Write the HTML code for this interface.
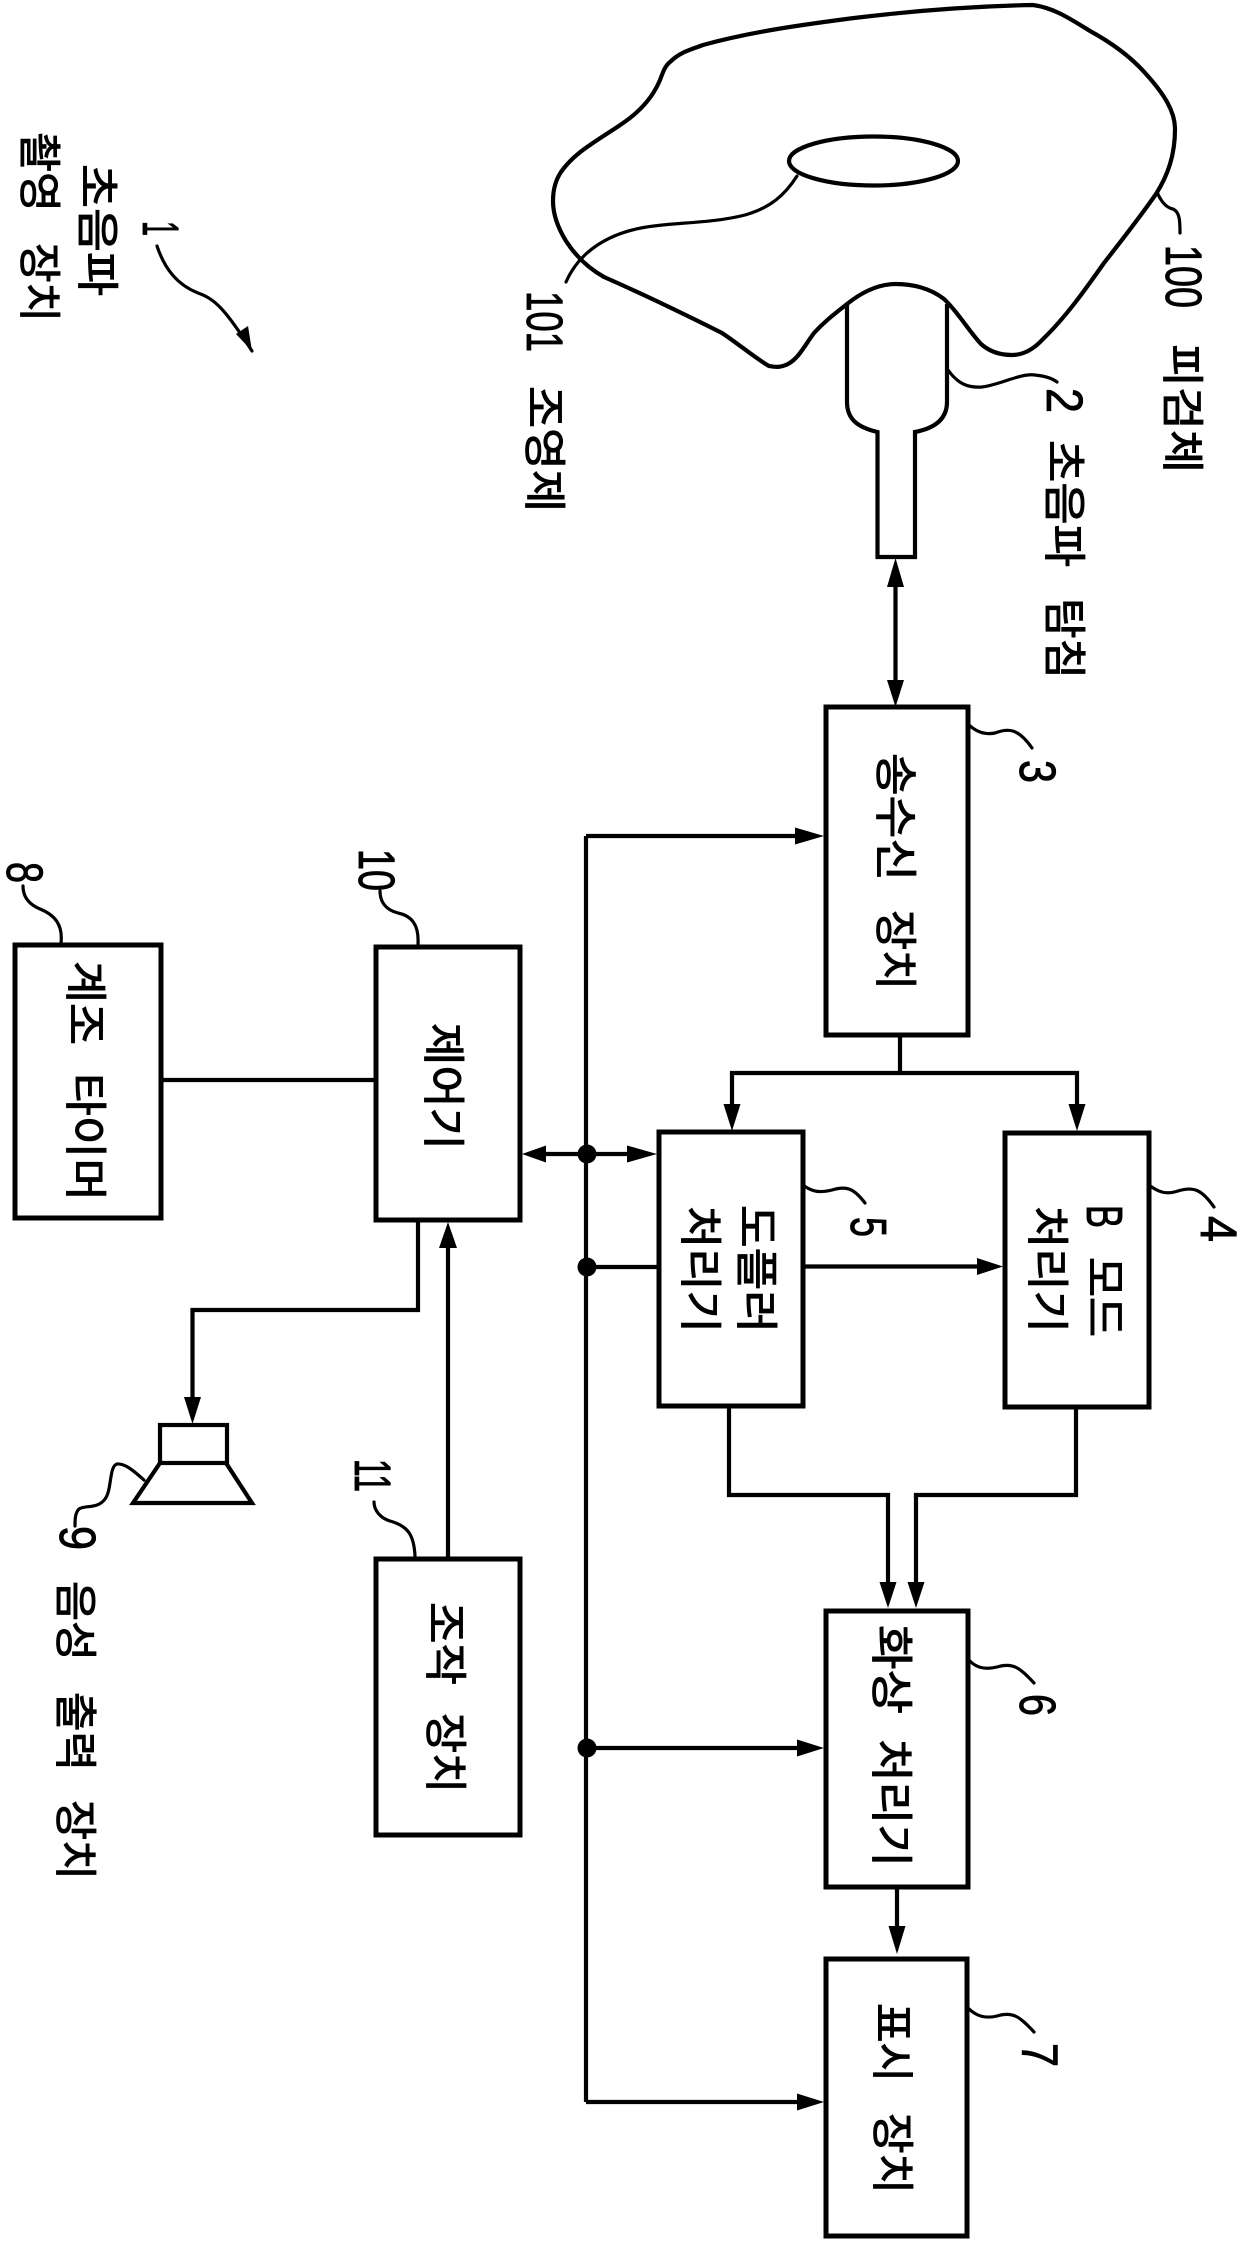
<!DOCTYPE html>
<html lang="ko">
<head>
<meta charset="utf-8">
<title>초음파 촬영 장치</title>
<style>
html,body{margin:0;padding:0;background:#fff;width:1240px;height:2242px;overflow:hidden}
svg{display:block}
.k{font-family:"Liberation Sans","Noto Sans CJK KR",sans-serif;font-size:43px;fill:#000;stroke:#000;stroke-width:1px}
.n{font-family:"Liberation Sans",sans-serif;font-size:51px;fill:#000;stroke:#000;stroke-width:.9px}
.l{fill:none;stroke:#000;stroke-width:4.2}
.t{fill:none;stroke:#000;stroke-width:3.2;stroke-linecap:round}
.b{fill:#fff;stroke:#000;stroke-width:5}
</style>
</head>
<body>
<svg width="1240" height="2242" viewBox="0 0 1240 2242" xmlns="http://www.w3.org/2000/svg">
<rect width="1240" height="2242" fill="#fff"/>

<!-- subject outline -->
<path class="l" d="M670,62 C680,52 690,50 703,45 C750,32 800,25 854,18 C920,10 980,6 1033,5 C1055,8 1072,20 1090,31 C1112,43 1132,58 1146,74 C1165,95 1175,112 1175,129 C1175,155 1168,175 1156,194 C1140,217 1122,240 1104,263 C1085,290 1065,318 1043,339 C1033,350 1022,355 1012,355 C1000,355 990,352 981,344 C968,330 958,312 944,299 C930,288 912,284 896,284 C878,284 862,292 847,304 C833,315 824,322 814,333 C805,345 799,358 788,364 C780,368 775,367 769,366 C755,358 740,345 722,333 C680,312 645,295 604,277 C588,268 575,255 566,241 C558,228 553,215 553,201 C553,190 555,181 561,172 C568,162 578,153 590,145 C607,133 624,124 637,112 C648,102 655,92 660,80 C663,72 665,66 670,62 Z"/>
<ellipse class="l" cx="873.5" cy="161" rx="84.5" ry="24.5"/>
<!-- probe -->
<path class="l" d="M847,304 L847,402 C847,418 856,427 877.5,432 L877.5,557 L915,557 L915,432 C936,428 947,418 947,402 L947,304"/>

<!-- leaders -->
<path class="t" d="M797,176 C785,195 770,208 745,215 C710,224 670,222 641,228 C610,234 580,250 566,282"/>
<path class="t" d="M1157,192 C1162,204 1168,208 1173,209 C1180,212 1180,222 1180,233"/>
<path class="t" d="M948,370 C958,384 968,388 982,387 C1000,385 1020,373 1035,375 C1045,376 1052,378 1057,382"/>
<path class="t" d="M968,724 C976,732 985,735 995,733 C1008,728 1018,728 1032,748"/>
<path class="t" d="M803,1185 C812,1192 820,1193 832,1190 C848,1185 855,1190 865,1203"/>
<path class="t" d="M1149,1185 C1158,1192 1166,1195 1178,1191 C1194,1186 1202,1190 1214,1207"/>
<path class="t" d="M969,1660 C976,1668 985,1670 997,1667 C1013,1662 1020,1668 1034,1683"/>
<path class="t" d="M968,2008 C976,2016 985,2019 997,2016 C1013,2011 1020,2017 1034,2032"/>
<path class="t" d="M418,944 C419,925 412,916 398,913 C386,910 380,902 380,891"/>
<path class="t" d="M61,943 C63,925 55,915 40,909 C28,904 23,896 23,886"/>
<path class="t" d="M415,1556 C414,1535 408,1526 390,1521 C380,1518 374,1510 374,1502"/>
<path class="t" d="M144,1480 C135,1472 125,1463 117,1464 C109,1466 112,1490 105,1499 C98,1509 85,1505 79,1509 C75,1513 75,1520 75,1526"/>
<path class="t" d="M157,246 C165,270 178,285 198,293 C215,299 225,309 252,351"/>
<polygon points="252,351 236,334 248,326" fill="#000"/>

<!-- boxes -->
<rect class="b" x="826" y="707" width="142" height="328"/>
<rect class="b" x="659" y="1132" width="144" height="274"/>
<rect class="b" x="1005" y="1133" width="144" height="274"/>
<rect class="b" x="826" y="1611" width="142" height="276"/>
<rect class="b" x="826" y="1959" width="141" height="277"/>
<rect class="b" x="376" y="947" width="144" height="273"/>
<rect class="b" x="15" y="945" width="146" height="273"/>
<rect class="b" x="376" y="1559" width="144" height="276"/>
<!-- speaker -->
<rect class="l" x="160" y="1425" width="67" height="38"/>
<path class="l" d="M160,1463 L133,1503 L252,1503 L226,1463"/>

<!-- connectors -->
<g class="l">
<path d="M895.5,575 L895.5,690"/>
<path d="M900,1035 L900,1073"/>
<path d="M732,1110 L732,1073 L1077,1073 L1077,1110"/>
<path d="M586,836 L586,2102"/>
<path d="M586,836 L800,836"/>
<path d="M586,2102 L800,2102"/>
<path d="M530,1154 L640,1154"/>
<path d="M586,1267 L657,1267"/>
<path d="M586,1748 L800,1748"/>
<path d="M803,1266.5 L980,1266.5"/>
<path d="M161,1080 L376,1080"/>
<path d="M418,1220 L418,1310 L192.5,1310 L192.5,1400"/>
<path d="M448,1557 L448,1240"/>
<path d="M729,1406 L729,1495 L888,1495 L888,1585"/>
<path d="M1076,1407 L1076,1495 L916,1495 L916,1585"/>
<path d="M897,1887 L897,1930"/>
</g>

<!-- arrowheads -->
<g fill="#000">
<polygon points="895.5,558 887,587 904,587"/>
<polygon points="895.5,707 887,680 904,680"/>
<polygon points="824,836 795,827.5 795,844.5"/>
<polygon points="657,1154 627,1145.5 627,1162.5"/>
<polygon points="522,1154 546,1145.5 546,1162.5"/>
<polygon points="732,1131 723.5,1104 740.5,1104"/>
<polygon points="1077,1131 1068.5,1104 1085.5,1104"/>
<polygon points="1003,1266.5 977,1258 977,1275"/>
<polygon points="888,1608 879.5,1582 896.5,1582"/>
<polygon points="916,1608 907.5,1582 924.5,1582"/>
<polygon points="824,1748 797,1739.5 797,1756.5"/>
<polygon points="897,1954 888.5,1926 905.5,1926"/>
<polygon points="824,2102 797,2093.5 797,2110.5"/>
<polygon points="448,1222 439,1248 457,1248"/>
<polygon points="192.5,1424 184,1397 201,1397"/>
<ellipse cx="587" cy="1154" rx="9.5" ry="9.5"/>
<ellipse cx="587" cy="1267" rx="9.5" ry="9.5"/>
<ellipse cx="587" cy="1748" rx="9.5" ry="9.5"/>
</g>

<!-- Korean labels (rotated 90 clockwise) -->
<g class="k">
<text transform="translate(82,164) rotate(90)" textLength="132" lengthAdjust="spacingAndGlyphs">초음파</text>
<text transform="translate(24,132) rotate(90)" textLength="80" lengthAdjust="spacingAndGlyphs">촬영</text>
<text transform="translate(24,243) rotate(90)" textLength="79" lengthAdjust="spacingAndGlyphs">장치</text>
<text transform="translate(529,386) rotate(90)" textLength="126" lengthAdjust="spacingAndGlyphs">조영제</text>
<text transform="translate(1167,344) rotate(90)" textLength="129" lengthAdjust="spacingAndGlyphs">피검체</text>
<text transform="translate(1049,440) rotate(90)" textLength="127" lengthAdjust="spacingAndGlyphs">초음파</text>
<text transform="translate(1049,598) rotate(90)" textLength="81" lengthAdjust="spacingAndGlyphs">탐침</text>
<text transform="translate(880,753) rotate(90)" textLength="128" lengthAdjust="spacingAndGlyphs">송수신</text>
<text transform="translate(880,910) rotate(90)" textLength="80" lengthAdjust="spacingAndGlyphs">장치</text>
<text transform="translate(741,1205) rotate(90)" textLength="128" lengthAdjust="spacingAndGlyphs">도플러</text>
<text transform="translate(685,1206) rotate(90)" textLength="127" lengthAdjust="spacingAndGlyphs">처리기</text>
<text transform="translate(1089,1257) rotate(90)" textLength="80" lengthAdjust="spacingAndGlyphs">모드</text>
<text transform="translate(1032,1206) rotate(90)" textLength="127" lengthAdjust="spacingAndGlyphs">처리기</text>
<text transform="translate(876,1625) rotate(90)" textLength="89" lengthAdjust="spacingAndGlyphs">화상</text>
<text transform="translate(876,1739) rotate(90)" textLength="128" lengthAdjust="spacingAndGlyphs">처리기</text>
<text transform="translate(877,2003) rotate(90)" textLength="79" lengthAdjust="spacingAndGlyphs">표시</text>
<text transform="translate(877,2113) rotate(90)" textLength="81" lengthAdjust="spacingAndGlyphs">장치</text>
<text transform="translate(428,1023) rotate(90)" textLength="127" lengthAdjust="spacingAndGlyphs">제어기</text>
<text transform="translate(70,961) rotate(90)" textLength="84" lengthAdjust="spacingAndGlyphs">계조</text>
<text transform="translate(70,1073) rotate(90)" textLength="128" lengthAdjust="spacingAndGlyphs">타이머</text>
<text transform="translate(430,1602) rotate(90)" textLength="83" lengthAdjust="spacingAndGlyphs">조작</text>
<text transform="translate(430,1713) rotate(90)" textLength="80" lengthAdjust="spacingAndGlyphs">장치</text>
<text transform="translate(60,1581) rotate(90)" textLength="80" lengthAdjust="spacingAndGlyphs">음성</text>
<text transform="translate(60,1692) rotate(90)" textLength="79" lengthAdjust="spacingAndGlyphs">출력</text>
<text transform="translate(60,1800) rotate(90)" textLength="80" lengthAdjust="spacingAndGlyphs">장치</text>
</g>

<!-- numerals -->
<g class="n">
<text transform="translate(143,221) rotate(90)" textLength="15" lengthAdjust="spacingAndGlyphs">1</text>
<text transform="translate(527,291) rotate(90)" textLength="61" lengthAdjust="spacingAndGlyphs">101</text>
<text transform="translate(1166,245) rotate(90)" textLength="63" lengthAdjust="spacingAndGlyphs">100</text>
<text transform="translate(1047,388) rotate(90)" textLength="25" lengthAdjust="spacingAndGlyphs">2</text>
<text transform="translate(1020,760) rotate(90)" textLength="23" lengthAdjust="spacingAndGlyphs">3</text>
<text transform="translate(1201,1216) rotate(90)" textLength="26" lengthAdjust="spacingAndGlyphs">4</text>
<text transform="translate(851,1217) rotate(90)" textLength="20" lengthAdjust="spacingAndGlyphs">5</text>
<text transform="translate(1020,1694) rotate(90)" textLength="22" lengthAdjust="spacingAndGlyphs">6</text>
<text transform="translate(1022,2043) rotate(90)" textLength="24" lengthAdjust="spacingAndGlyphs">7</text>
<text transform="translate(7,862) rotate(90)" textLength="21" lengthAdjust="spacingAndGlyphs">8</text>
<text transform="translate(60,1526) rotate(90)" textLength="24" lengthAdjust="spacingAndGlyphs">9</text>
<text transform="translate(359,849) rotate(90)" textLength="42" lengthAdjust="spacingAndGlyphs">10</text>
<text transform="translate(355,1459) rotate(90)" textLength="33" lengthAdjust="spacingAndGlyphs">11</text>
<text transform="translate(1087,1205) rotate(90)" textLength="23" lengthAdjust="spacingAndGlyphs">B</text>
</g>
</svg>
</body>
</html>
